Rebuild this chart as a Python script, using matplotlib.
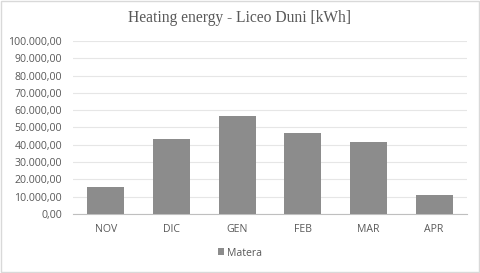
import matplotlib as mpl
mpl.use('Agg')
import matplotlib.pyplot as plt
from matplotlib import ticker
from matplotlib.patches import Rectangle

months = ["NOV", "DIC", "GEN", "FEB", "MAR", "APR"]
matera = [15800, 43200, 56500, 47000, 41400, 10800]
series_name = "Matera"
title = "Heating energy - Liceo Duni [kWh]"

bar_color = '#8c8c8c'
text_color = '#595959'

fig = plt.figure(figsize=(4.8, 2.73), dpi=100)
ax = fig.add_axes([73 / 480, 1 - 214 / 273, (467 - 73) / 480, (214 - 41) / 273])

x = range(len(months))
ax.bar(x, matera, width=0.56, color=bar_color, zorder=3, label=series_name)

ax.set_xlim(-0.5, len(months) - 0.5)
ax.set_ylim(0, 100000)
ax.yaxis.set_major_locator(ticker.MultipleLocator(10000))

def fmt(v, pos):
    s = "{:,.2f}".format(v)
    return s.replace(",", "X").replace(".", ",").replace("X", ".")

ax.yaxis.set_major_formatter(ticker.FuncFormatter(fmt))
ax.set_xticks(list(x))
ax.set_xticklabels(months)
ax.tick_params(axis='y', length=0, labelsize=7.6, labelcolor=text_color, pad=8)
ax.tick_params(axis='x', length=0, labelsize=7.6, labelcolor=text_color, pad=7)
for lab in ax.get_xticklabels() + ax.get_yticklabels():
    lab.set_fontfamily('Open Sans')

ax.grid(axis='y', color='#e6e6e6', linewidth=0.8, zorder=0)
for side in ['top', 'right', 'left']:
    ax.spines[side].set_visible(False)
ax.spines['bottom'].set_color('#bfbfbf')
ax.spines['bottom'].set_linewidth(0.8)

fig.text(0.5, 1 - 18 / 273, title, ha='center', va='center', fontsize=11.2,
         color=text_color, family='Liberation Serif')

leg = fig.legend(loc='center', bbox_to_anchor=(0.5, 1 - 253 / 273), frameon=False,
                 handlelength=0.6, handleheight=0.6, handletextpad=0.3,
                 prop={'family': 'Open Sans', 'size': 7.6})
for t in leg.get_texts():
    t.set_color(text_color)

fig.patches.append(Rectangle((0.002, 0.003), 0.995, 0.993, transform=fig.transFigure,
                             fill=False, edgecolor='#d9d9d9', linewidth=1))

plt.savefig('out.png', dpi=100)
plt.close()
